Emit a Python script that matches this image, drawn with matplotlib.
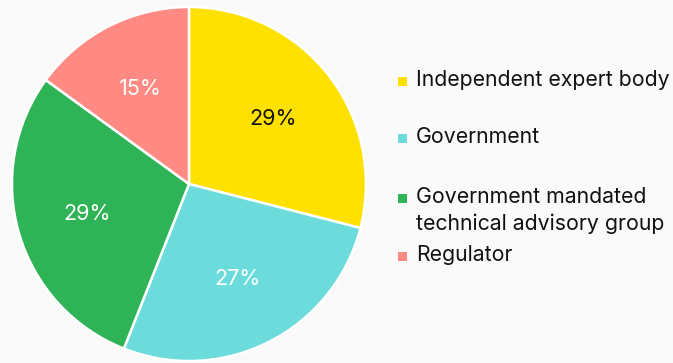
import matplotlib
matplotlib.use("Agg")
import matplotlib.pyplot as plt
from matplotlib.patches import Rectangle

categories = ["Independent expert body", "Government",
              "Government mandated\ntechnical advisory group", "Regulator"]
shares = [29, 27, 29, 15]
colors = ["#FFE100", "#6CDBDB", "#2EB457", "#FF8A84"]
label_colors = ["#111111", "#FFFFFF", "#FFFFFF", "#FFFFFF"]

W, H = 673, 363
plt.rcParams["font.family"] = ["Inter", "DejaVu Sans"]
fig = plt.figure(figsize=(W / 100, H / 100), dpi=100, facecolor="#FAFAFA")

cx, cy, r = 189, 184, 177
ax = fig.add_axes([(cx - r) / W, (H - cy - r) / H, 2 * r / W, 2 * r / H])
ax.set_facecolor("none")
wedges, texts, autotexts = ax.pie(
    shares, colors=colors, startangle=90, counterclock=False,
    autopct=lambda p: f"{p:.0f}%", pctdistance=0.6,
    wedgeprops=dict(edgecolor="white", linewidth=1.8),
    textprops=dict(fontsize=15.5))
for t, c in zip(autotexts, label_colors):
    t.set_color(c)
ax.set_xlim(-1, 1)
ax.set_ylim(-1, 1)
ax.set_aspect("equal")
ax.axis("off")

# legend drawn at fixed baselines (pixel rows from the top)
baselines = [86, 143, 203, 261]
sq_x, sq = 398, 9
txt_x = 416
fs = 15.3
for lab, col, base in zip(categories, colors, baselines):
    fig.patches.append(Rectangle((sq_x / W, (H - base) / H), sq / W, sq / H,
                                 transform=fig.transFigure, facecolor=col,
                                 edgecolor="none"))
    lines = lab.split("\n")
    for i, line in enumerate(lines):
        fig.text(txt_x / W, (H - base - 27 * i) / H, line, fontsize=fs,
                 color="#111111", va="baseline", ha="left")

fig.savefig("out.png", dpi=100, facecolor=fig.get_facecolor())
